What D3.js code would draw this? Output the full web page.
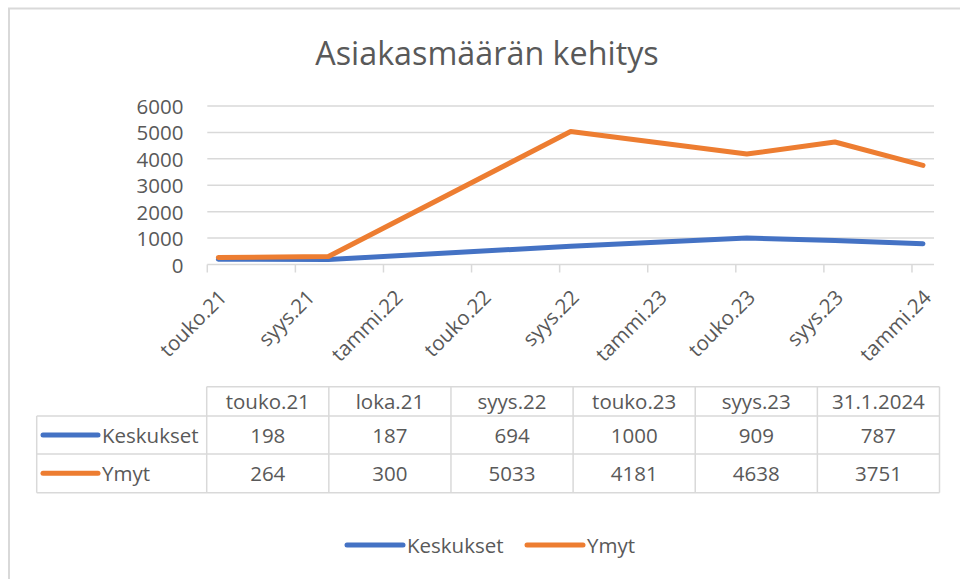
<!DOCTYPE html>
<html>
<head>
<meta charset="utf-8">
<script src="https://cdn.jsdelivr.net/npm/d3@7"></script>
<style>
  html, body { margin: 0; padding: 0; background: #fff; }
  svg { display: block; }
  text { font-family: "Open Sans", Carlito, Calibri, sans-serif; fill: #595959; }
</style>
</head>
<body>
<svg id="chart" width="960" height="579"></svg>
<script>
// ---- data ----
const title = "Asiakasmäärän kehitys";
const seriesNames = ["Keskukset", "Ymyt"];
const seriesColors = ["#4472C4", "#ED7D31"];
const dataLabels = ["touko.21", "loka.21", "syys.22", "touko.23", "syys.23", "31.1.2024"];
const dataMonths = ["2021-05", "2021-10", "2022-09", "2023-05", "2023-09", "2024-01"];
const keskukset = [198, 187, 694, 1000, 909, 787];
const ymyt = [264, 300, 5033, 4181, 4638, 3751];
const tickLabels = ["touko.21", "syys.21", "tammi.22", "touko.22", "syys.22", "tammi.23", "touko.23", "syys.23", "tammi.24"];
const tickMonths = ["2021-05", "2021-09", "2022-01", "2022-05", "2022-09", "2023-01", "2023-05", "2023-09", "2024-01"];
const yTicks = [0, 1000, 2000, 3000, 4000, 5000, 6000];

const seriesValues = [keskukset, ymyt];

// ---- layout ----
const svg = d3.select("#chart");
const plot = { left: 207.3, right: 934, top: 106, bottom: 264.5 };
const fs = "20.5px";

const startMonth = "2021-05", endMonth = "2024-01";
function monthIndex(s) {
  const [y, m] = s.split("-").map(Number);
  const [y0, m0] = startMonth.split("-").map(Number);
  return (y - y0) * 12 + (m - m0);
}
const nMonths = monthIndex(endMonth) + 1;

const x = d3.scaleLinear().domain([0, nMonths]).range([plot.left, plot.right]);
const y = d3.scaleLinear().domain([0, 6000]).range([plot.bottom, plot.top]);

// chart frame
svg.append("rect")
  .attr("x", 9).attr("y", 8.5).attr("width", 980).attr("height", 600)
  .attr("fill", "#fff").attr("stroke", "#d9d9d9").attr("stroke-width", 2);

// title
svg.append("text")
  .attr("x", 487).attr("y", 65)
  .attr("text-anchor", "middle")
  .style("font-size", "32.3px")
  .text(title);

// gridlines
svg.append("g").selectAll("line")
  .data(yTicks)
  .join("line")
  .attr("x1", plot.left).attr("x2", plot.right)
  .attr("y1", d => y(d)).attr("y2", d => y(d))
  .attr("stroke", "#d9d9d9").attr("stroke-width", 1.5);

// y axis labels
svg.append("g").selectAll("text")
  .data(yTicks)
  .join("text")
  .attr("x", 183.5).attr("y", d => y(d))
  .attr("text-anchor", "end")
  .attr("dominant-baseline", "central")
  .style("font-size", fs)
  .text(d => d);

// x tick marks
svg.append("g").selectAll("line")
  .data(tickMonths)
  .join("line")
  .attr("x1", d => x(monthIndex(d))).attr("x2", d => x(monthIndex(d)))
  .attr("y1", plot.bottom).attr("y2", plot.bottom + 8)
  .attr("stroke", "#d9d9d9").attr("stroke-width", 1.5);

// x tick labels
svg.append("g").selectAll("text")
  .data(tickMonths)
  .join("text")
  .attr("transform", d => `translate(${x(monthIndex(d) + 0.5) + 4},293) rotate(-45)`)
  .attr("text-anchor", "end")
  .attr("dominant-baseline", "central")
  .style("font-size", fs)
  .text((d, i) => tickLabels[i]);

// lines
const line = d3.line()
  .x(d => x(monthIndex(d.m) + 0.5))
  .y(d => y(d.v));

seriesValues.forEach((vals, si) => {
  const pts = vals.map((v, i) => ({ m: dataMonths[i], v }));
  svg.append("path")
    .datum(pts)
    .attr("d", line)
    .attr("fill", "none")
    .attr("stroke", seriesColors[si])
    .attr("stroke-width", 5)
    .attr("stroke-linejoin", "round")
    .attr("stroke-linecap", "round");
});

// data table
const table = { left: 36.7, colLeft: 206.7, right: 939.5, top: 386.7, rows: [416, 454, 492.7] };
const col = d3.scaleBand().domain(dataLabels).range([table.colLeft, table.right]);
const tg = svg.append("g");
const bc = "#d9d9d9", bw = 1.5;
tg.append("line").attr("x1", table.colLeft).attr("x2", table.right).attr("y1", table.top).attr("y2", table.top)
  .attr("stroke", bc).attr("stroke-width", bw);
table.rows.forEach(ry => {
  tg.append("line").attr("x1", table.left).attr("x2", table.right).attr("y1", ry).attr("y2", ry)
    .attr("stroke", bc).attr("stroke-width", bw);
});
tg.append("line").attr("x1", table.left).attr("x2", table.left).attr("y1", table.rows[0]).attr("y2", table.rows[2])
  .attr("stroke", bc).attr("stroke-width", bw);
dataLabels.forEach(d => {
  tg.append("line").attr("x1", col(d)).attr("x2", col(d)).attr("y1", table.top).attr("y2", table.rows[2])
    .attr("stroke", bc).attr("stroke-width", bw);
});
tg.append("line").attr("x1", table.right).attr("x2", table.right).attr("y1", table.top).attr("y2", table.rows[2])
  .attr("stroke", bc).attr("stroke-width", bw);

tg.selectAll("text.hdr")
  .data(dataLabels)
  .join("text")
  .attr("class", "hdr")
  .attr("x", d => col(d) + col.bandwidth() / 2)
  .attr("y", (table.top + table.rows[0]) / 2)
  .attr("text-anchor", "middle")
  .attr("dominant-baseline", "central")
  .style("font-size", fs)
  .text(d => d);

const rowTops = [table.rows[0], table.rows[1]];
const rowBots = [table.rows[1], table.rows[2]];
seriesValues.forEach((vals, si) => {
  const cy = (rowTops[si] + rowBots[si]) / 2;
  tg.append("line")
    .attr("x1", 43).attr("x2", 98)
    .attr("y1", cy).attr("y2", cy)
    .attr("stroke", seriesColors[si]).attr("stroke-width", 5).attr("stroke-linecap", "round");
  tg.append("text")
    .attr("x", 102).attr("y", cy)
    .attr("dominant-baseline", "central")
    .style("font-size", fs)
    .text(seriesNames[si]);
  tg.selectAll("text.v" + si)
    .data(vals)
    .join("text")
    .attr("class", "v" + si)
    .attr("x", (d, i) => col(dataLabels[i]) + col.bandwidth() / 2)
    .attr("y", cy)
    .attr("text-anchor", "middle")
    .attr("dominant-baseline", "central")
    .style("font-size", fs)
    .text(d => d);
});

// legend
const legendItems = [{ x1: 347, x2: 403, tx: 407 }, { x1: 527, x2: 583, tx: 587 }];
seriesNames.forEach((name, si) => {
  const li = legendItems[si];
  svg.append("line")
    .attr("x1", li.x1).attr("x2", li.x2).attr("y1", 545).attr("y2", 545)
    .attr("stroke", seriesColors[si]).attr("stroke-width", 5).attr("stroke-linecap", "round");
  svg.append("text")
    .attr("x", li.tx).attr("y", 545)
    .attr("dominant-baseline", "central")
    .style("font-size", fs)
    .text(name);
});
</script>
</body>
</html>
